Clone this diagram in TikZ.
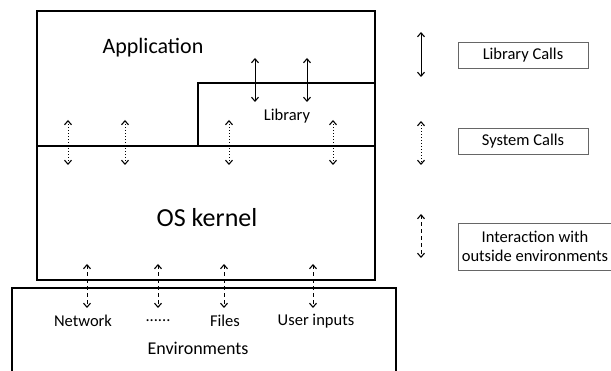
\documentclass[tikz,border=0pt]{standalone}
\usepackage{fontspec}
\setmainfont{Carlito}
\usetikzlibrary{arrows.meta}
\begin{document}
\begin{tikzpicture}[x=1pt,y=-1pt,
  box/.style={draw=black,line width=1.4pt},
  legbox/.style={draw=black!60,line width=0.9pt},
  barb/.style={{Straight Barb[length=4pt,width=7pt,line width=1.1pt]}-{Straight Barb[length=4pt,width=7pt,line width=1.1pt]},line width=1pt},
  libcall/.style={barb},
  syscall/.style={barb,dotted},
  envcall/.style={barb,dash pattern=on 4pt off 3pt},
  lbl/.style={font=\fontsize{16.5}{19}\selectfont,inner sep=0pt},
  legtxt/.style={font=\fontsize{16.5}{19}\selectfont,inner sep=0pt,align=center}]
\useasboundingbox (0,0) rectangle (611,371);
% main boxes
\draw[box] (37,11) rectangle (375,280);
\draw[line width=2pt] (37,146) -- (375,146);
\draw[box] (198,146) |- (375,83);
% environments box (cut by bottom edge)
\draw[box] (12,372) |- (396,288) -- (396,372);
% labels
\node[inner sep=0pt,font=\fontsize{22}{26}\selectfont] (app) at (153,48) {Application};
\node[inner sep=0pt,font=\fontsize{26}{31}\selectfont] (os) at (207,218) {OS kernel};
\node[lbl] (lib) at (287,116) {Library};
\node[lbl] (net) at (83,321) {Network};
\node[lbl] (dots) at (158,321) {......};
\node[lbl] (files) at (225,321) {Files};
\node[lbl] (user) at (316,321) {User inputs};
\node[lbl,font=\fontsize{18}{21}\selectfont] (envs) at (198,348) {Environments};
% library call arrows
\foreach \i/\x in {1/255,2/307}{
  \coordinate (lt\i) at (\x,58); \coordinate (lb\i) at (\x,102);
  \draw[libcall] (lt\i) -- (lb\i);}
% system call arrows
\foreach \i/\x in {1/68,2/125,3/229,4/333}{
  \coordinate (st\i) at (\x,120); \coordinate (sb\i) at (\x,165);
  \draw[syscall] (st\i) -- (sb\i);}
% environment arrows
\foreach \i/\x in {1/87,2/158,3/224,4/313}{
  \coordinate (et\i) at (\x,264); \coordinate (eb\i) at (\x,308);
  \draw[envcall] (et\i) -- (eb\i);}
% legend
\coordinate (k1t) at (421,32); \coordinate (k1b) at (421,77);
\draw[libcall] (k1t) -- (k1b);
\coordinate (k2t) at (421,121); \coordinate (k2b) at (421,165);
\draw[syscall] (k2t) -- (k2b);
\coordinate (k3t) at (421,214); \coordinate (k3b) at (421,258);
\draw[envcall] (k3t) -- (k3b);
\node[legbox,legtxt,minimum width=130pt,minimum height=26pt] (leg1) at (523,55) {Library Calls};
\node[legbox,legtxt,minimum width=130pt,minimum height=26pt] (leg2) at (523,141) {System Calls};
\node[legtxt] (leg3) at (535,246.5) {Interaction with\\outside environments};
\draw[legbox] (612,223) -| (458,270) -- (612,270);
\end{tikzpicture}
\end{document}
